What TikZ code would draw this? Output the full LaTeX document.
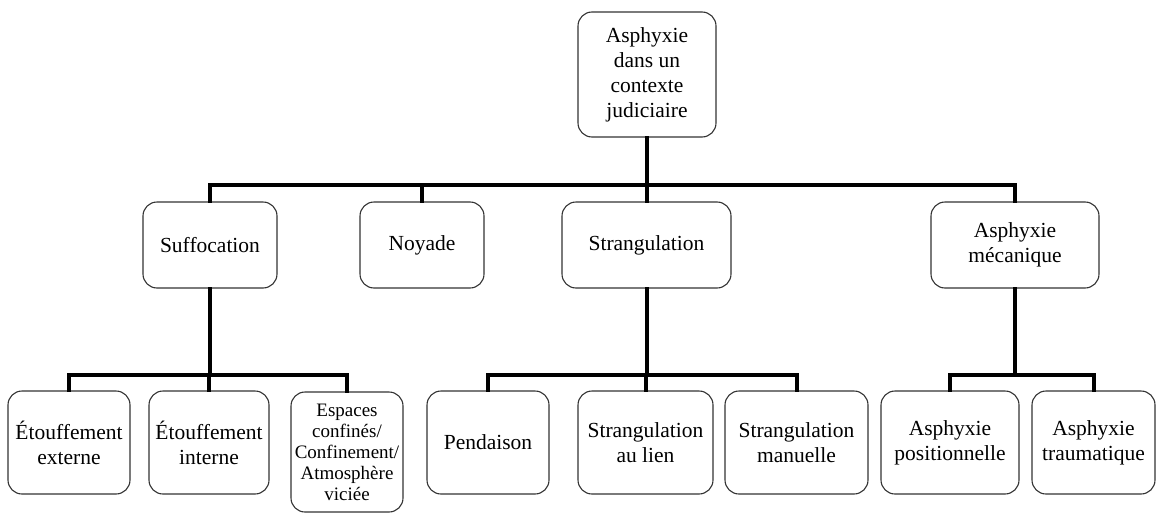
\documentclass[tikz,border=0pt]{standalone}
\usepackage{fontspec}
\setmainfont{Liberation Serif}
\newfontfamily\tnrfont{Liberation Serif}
\begin{document}
\begin{tikzpicture}[x=1pt,y=-1pt,
  box/.style={draw=black!80, line width=1.1pt, rounded corners=14pt, align=center,
    inner sep=0pt, font=\tnrfont\fontsize{21.5}{25}\selectfont},
  smallbox/.style={box, font=\tnrfont\fontsize{19}{21}\selectfont},
  conn/.style={line width=4pt, line join=miter, line cap=rect}]
\useasboundingbox (0,0) rectangle (1156,514);
\fill[white] (0,0) rectangle (1156,514);
% root
\node[box, minimum width=138pt, minimum height=125pt] (root) at (647,74.5) {Asphyxie\\dans un\\contexte\\judiciaire};
% level 2
\node[box, minimum width=134pt, minimum height=86pt] (suf) at (210,245) {Suffocation};
\node[box, minimum width=124pt, minimum height=86pt] (noy) at (422,245) {Noyade};
\node[box, minimum width=169pt, minimum height=86pt] (str) at (646.5,245) {Strangulation};
\node[box, minimum width=168pt, minimum height=86pt] (mec) at (1015,245) {Asphyxie\\mécanique};
% level 3
\node[box, minimum width=122pt, minimum height=103pt] (ext) at (69,442.5) {Étouffement\\externe};
\node[box, minimum width=120pt, minimum height=103pt] (int) at (209,442.5) {Étouffement\\interne};
\node[smallbox, minimum width=112pt, minimum height=120pt] (esp) at (347,452) {Espaces\\confinés/\\Confinement/\\Atmosphère\\viciée};
\node[box, minimum width=122pt, minimum height=103pt] (pen) at (488,442.5) {Pendaison};
\node[box, minimum width=135pt, minimum height=103pt] (lien) at (645.5,442.5) {Strangulation\\au lien};
\node[box, minimum width=143pt, minimum height=103pt] (man) at (796.5,442.5) {Strangulation\\manuelle};
\node[box, minimum width=138pt, minimum height=103pt] (pos) at (950,442.5) {Asphyxie\\positionnelle};
\node[box, minimum width=123pt, minimum height=103pt] (tra) at (1093.5,442.5) {Asphyxie\\traumatique};
% bar levels
\coordinate (bar1) at (646,185);
\coordinate (bar2) at (0,375);
% connectors
\draw[conn] (root.south) -- (root.south |- bar1);
\draw[conn] (suf.north) |- (bar1) -| (mec.north);
\draw[conn] (noy.north) -- (noy.north |- bar1);
\draw[conn] (str.north) -- (str.north |- bar1);
\draw[conn] (suf.south) -- (suf.south |- bar2);
\draw[conn] (ext.north) |- (int.north |- bar2) -| (esp.north);
\draw[conn] (int.north) -- (int.north |- bar2);
\draw[conn] (str.south) -- (str.south |- bar2);
\draw[conn] (pen.north) |- (lien.north |- bar2) -| (man.north);
\draw[conn] (lien.north) -- (lien.north |- bar2);
\draw[conn] (mec.south) -- (mec.south |- bar2);
\draw[conn] (pos.north) |- (mec.south |- bar2) -| (tra.north);
\end{tikzpicture}
\end{document}
